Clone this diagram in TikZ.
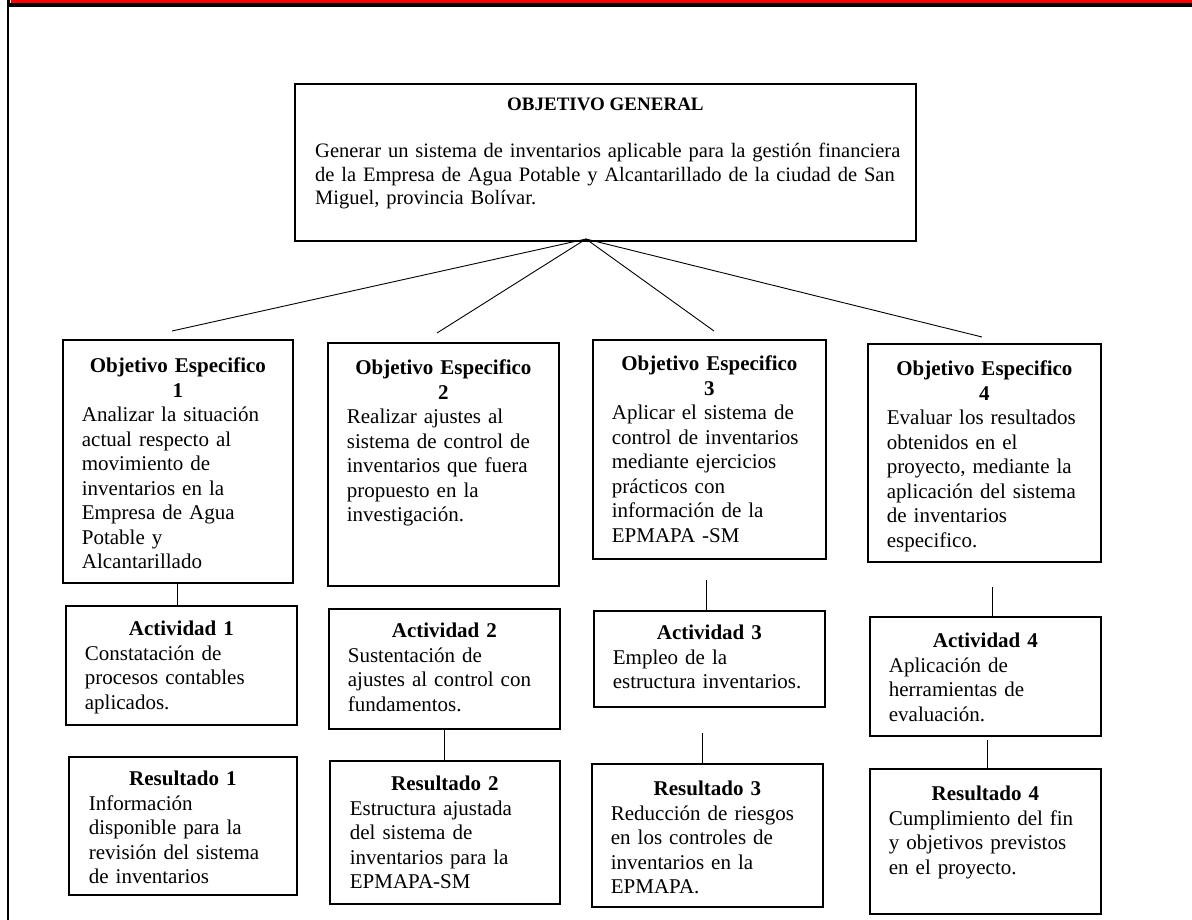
\documentclass[tikz,border=0pt]{standalone}
\usepackage{fontspec}
\setmainfont{Liberation Serif}
\usetikzlibrary{calc}
\setlength{\parindent}{0pt}
\setlength{\parskip}{0pt}
\begin{document}
\begin{tikzpicture}[x=1pt,y=-1pt,
  box/.style={draw=black, line width=1.8pt, anchor=north west, inner sep=0pt, fill=white},
  txt/.style={anchor=north, inner sep=0pt, font=\fontsize{21}{24.5}\selectfont},
  con/.style={draw=black, line width=0.9pt}]
\useasboundingbox (0,0) rectangle (1192,920);
\fill[white] (0,0) rectangle (1192,920);
% page border
\fill[red] (11,0) rectangle (1192,3);
\fill[black] (6.5,3) rectangle (1192,7);
\fill[black] (6.5,0) rectangle (10,7);
\fill[black] (6.5,0) rectangle (8.8,920);

% boxes
\node[box, minimum width=621pt, minimum height=157pt] (gen) at (294,83) {};
\node[box, minimum width=230pt, minimum height=243pt] (oe1) at (62,339) {};
\node[box, minimum width=231pt, minimum height=243pt] (oe2) at (327,342) {};
\node[box, minimum width=233pt, minimum height=219pt] (oe3) at (592,339) {};
\node[box, minimum width=233pt, minimum height=218pt] (oe4) at (867,343) {};
\node[box, minimum width=231pt, minimum height=119pt] (act1) at (65,605) {};
\node[box, minimum width=231pt, minimum height=120pt] (act2) at (328,608) {};
\node[box, minimum width=231pt, minimum height=96pt] (act3) at (593,610) {};
\node[box, minimum width=231pt, minimum height=119pt] (act4) at (869,616) {};
\node[box, minimum width=228pt, minimum height=138pt] (res1) at (68,756) {};
\node[box, minimum width=230pt, minimum height=143pt] (res2) at (329,760) {};
\node[box, minimum width=231pt, minimum height=143pt] (res3) at (591,763) {};
\node[box, minimum width=231pt, minimum height=145pt] (res4) at (869,768) {};

% texts
\node[anchor=north, inner sep=0pt, font=\fontsize{19}{22}\selectfont\bfseries] (gent) at ($(gen.north)+(0,15)$) {OBJETIVO GENERAL};
\node[anchor=north west, inner sep=0pt, text width=610pt, font=\fontsize{20.5}{23.5}\selectfont] (genb) at ($(gen.north west)+(21,60)$)
 {\raggedright Generar un sistema de inventarios aplicable para la gestión financiera\\
  de la Empresa de Agua Potable y Alcantarillado de la ciudad de San\\
  Miguel, provincia Bolívar.};

\node[txt, text width=192pt] (oe1t) at ($(oe1.north)+(0,19)$)
 {{\centering\bfseries Objetivo Especifico\\ 1\par}\raggedright Analizar la situación\\ actual respecto al\\ movimiento de\\ inventarios en la\\ Empresa de Agua\\ Potable y\\ Alcantarillado};
\node[txt, text width=193pt] (oe2t) at ($(oe2.north)+(0,18)$)
 {{\centering\bfseries Objetivo Especifico\\ 2\par}\raggedright Realizar ajustes al\\ sistema de control de\\ inventarios que fuera\\ propuesto en la\\ investigación.};
\node[txt, text width=195pt] (oe3t) at ($(oe3.north)+(0,17)$)
 {{\centering\bfseries Objetivo Especifico\\ 3\par}\raggedright Aplicar el sistema de\\ control de inventarios\\ mediante ejercicios\\ prácticos con\\ información de la\\ EPMAPA -SM};
\node[txt, text width=195pt] (oe4t) at ($(oe4.north)+(0,18)$)
 {{\centering\bfseries Objetivo Especifico\\ 4\par}\raggedright Evaluar los resultados\\ obtenidos en el\\ proyecto, mediante la\\ aplicación del sistema\\ de inventarios\\ especifico.};

\node[txt, text width=193pt] (act1t) at ($(act1.north)+(0,16)$)
 {{\centering\bfseries Actividad 1\par}\raggedright Constatación de\\ procesos contables\\ aplicados.};
\node[txt, text width=193pt] (act2t) at ($(act2.north)+(0,15)$)
 {{\centering\bfseries Actividad 2\par}\raggedright Sustentación de\\ ajustes al control con\\ fundamentos.};
\node[txt, text width=193pt] (act3t) at ($(act3.north)+(0,15)$)
 {{\centering\bfseries Actividad 3\par}\raggedright Empleo de la\\ estructura inventarios.};
\node[txt, text width=193pt] (act4t) at ($(act4.north)+(0,17)$)
 {{\centering\bfseries Actividad 4\par}\raggedright Aplicación de\\ herramientas de\\ evaluación.};

\node[txt, text width=188pt] (res1t) at ($(res1.north)+(0,15)$)
 {{\centering\bfseries Resultado 1\par}\raggedright Información\\ disponible para la\\ revisión del sistema\\ de inventarios};
\node[txt, text width=190pt] (res2t) at ($(res2.north)+(0,16)$)
 {{\centering\bfseries Resultado 2\par}\raggedright Estructura ajustada\\ del sistema de\\ inventarios para la\\ EPMAPA-SM};
\node[txt, text width=193pt] (res3t) at ($(res3.north)+(0,18)$)
 {{\centering\bfseries Resultado 3\par}\raggedright Reducción de riesgos\\ en los controles de\\ inventarios en la\\ EPMAPA.};
\node[txt, text width=193pt] (res4t) at ($(res4.north)+(0,18)$)
 {{\centering\bfseries Resultado 4\par}\raggedright Cumplimiento del fin\\ y objetivos previstos\\ en el proyecto.};

% connectors from the general objective
\coordinate (apex) at (586,239);
\coordinate (e1) at (172,331);
\coordinate (e2) at (437,333);
\coordinate (e3) at (714,331);
\coordinate (e4) at (982,337);
\draw[con] (apex) -- (e1);
\draw[con] (apex) -- (e2);
\draw[con] (apex) -- (e3);
\draw[con] (apex) -- (e4);

% vertical connectors
\draw[con] (oe1.south) -- (oe1.south |- act1.north);
\draw[con] (act2.south) -- (act2.south |- res2.north);
\coordinate (c3a) at (706,580);
\draw[con] (c3a) -- (c3a |- act3.north);
\coordinate (c3b) at (702,733);
\draw[con] (c3b) -- (c3b |- res3.north);
\coordinate (c4a) at (992,587);
\draw[con] (c4a) -- (c4a |- act4.north);
\coordinate (c4b) at (987,740);
\draw[con] (c4b) -- (c4b |- res4.north);
\end{tikzpicture}
\end{document}
